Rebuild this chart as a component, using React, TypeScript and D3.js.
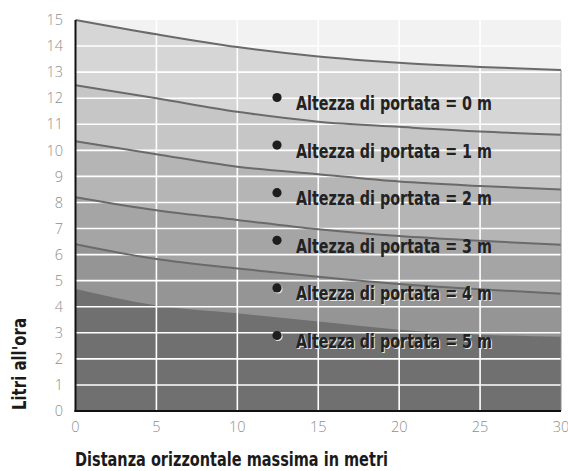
import React from "react";
import * as d3 from "d3";

// distance in metres (x axis)
const distances = [0, 5, 10, 15, 20, 25, 30];

// litres per hour for each delivery height
const height0 = [15, 14.45, 13.96, 13.6, 13.36, 13.2, 13.08];
const height1 = [12.5, 12.0, 11.48, 11.1, 10.9, 10.72, 10.6];
const height2 = [10.35, 9.85, 9.37, 9.08, 8.8, 8.63, 8.5];
const height3 = [8.2, 7.7, 7.33, 6.97, 6.71, 6.53, 6.38];
const height4 = [6.4, 5.83, 5.47, 5.15, 4.87, 4.67, 4.5];
const height5 = [4.68, 4.05, 3.75, 3.43, 3.12, 2.93, 2.85];

const seriesLabels = [
  "Altezza di portata = 0 m",
  "Altezza di portata = 1 m",
  "Altezza di portata = 2 m",
  "Altezza di portata = 3 m",
  "Altezza di portata = 4 m",
  "Altezza di portata = 5 m",
];

const xTicks = [0, 5, 10, 15, 20, 25, 30];
const yTicks = [0, 1, 2, 3, 4, 5, 6, 7, 8, 9, 10, 11, 12, 13, 14, 15];

const series = [height0, height1, height2, height3, height4, height5];
const fills = ["#d6d6d6", "#c6c6c6", "#b5b5b5", "#a5a5a5", "#959595", "#707070"];

const W = 568;
const H = 471;
const left = 75.5;
const right = 561;
const top = 20;
const bottom = 411;

const App: React.FC = () => {
  const x = d3.scaleLinear().domain([0, 30]).range([left, right]);
  const y = d3.scaleLinear().domain([0, 15]).range([bottom, top]);

  const area = d3
    .area<number>()
    .x((_, i) => x(distances[i]))
    .y0(y(0))
    .y1((d) => y(d))
    .curve(d3.curveMonotoneX);

  const line = d3
    .line<number>()
    .x((_, i) => x(distances[i]))
    .y((d) => y(d))
    .curve(d3.curveMonotoneX);

  const tickFont = "'Open Sans', 'DejaVu Sans', sans-serif";
  const boldFont = "'DejaVu Sans Condensed', 'Liberation Sans Narrow', sans-serif";

  return (
    <svg
      width={W}
      height={H}
      style={{ position: "absolute", left: 0, top: 0, background: "#fff" }}
    >
      {/* light background band above the 0 m curve */}
      <rect x={left} y={top} width={right - left} height={bottom - top} fill="#f2f2f2" />

      {series.map((s, i) => (
        <path key={"a" + i} d={area(s)!} fill={fills[i]} />
      ))}

      {/* grid */}
      {yTicks.slice(1, -1).map((t) => (
        <line key={"gy" + t} x1={left} x2={right} y1={y(t)} y2={y(t)} stroke="#fff" strokeWidth={1.6} />
      ))}
      {xTicks.slice(1, -1).map((t) => (
        <line key={"gx" + t} x1={x(t)} x2={x(t)} y1={top} y2={bottom} stroke="#fff" strokeWidth={1.6} />
      ))}

      {/* curve outlines */}
      {series.slice(0, 5).map((s, i) => (
        <path key={"l" + i} d={line(s)!} fill="none" stroke="#6a6a6a" strokeWidth={2} />
      ))}
      <line
        x1={x(30)}
        x2={x(30)}
        y1={y(height0[height0.length - 1])}
        y2={bottom}
        stroke="#8a8a8a"
        strokeWidth={1}
      />

      {/* axes */}
      <line x1={left} x2={left} y1={top} y2={bottom + 1} stroke="#111" strokeWidth={2} />
      <line x1={left - 1} x2={right} y1={bottom} y2={bottom} stroke="#111" strokeWidth={2} />

      {yTicks.map((t) => (
        <text
          key={"ty" + t}
          x={63}
          y={y(t)}
          dy="0.36em"
          textAnchor="end"
          fontFamily={tickFont}
          fontSize={14.5}
          fontWeight={300}
          fill="#8e8e8e"
        >
          {t}
        </text>
      ))}
      {xTicks.map((t) => (
        <text
          key={"tx" + t}
          x={x(t)}
          y={427}
          dy="0.36em"
          textAnchor="middle"
          fontFamily={tickFont}
          fontSize={14.5}
          fontWeight={300}
          fill="#8e8e8e"
        >
          {t}
        </text>
      ))}

      {/* legend */}
      {seriesLabels.map((label, i) => {
        const by = 110 + i * 47.6;
        const shadow = i >= 4;
        return (
          <g key={"lg" + i}>
            {shadow && <circle cx={278} cy={by - 11.5} r={4.6} fill="#e8e8e8" />}
            <circle cx={277} cy={by - 12.5} r={4.6} fill="#1e1e1e" />
            {shadow && (
              <text
                x={297}
                y={by + 1}
                fontFamily={boldFont}
                fontWeight="bold"
                fontSize={20}
                fill="#e6e6e6"
                textLength={196}
                lengthAdjust="spacingAndGlyphs"
              >
                {label}
              </text>
            )}
            <text
              x={296}
              y={by}
              fontFamily={boldFont}
              fontWeight="bold"
              fontSize={20}
              fill="#222"
              textLength={196}
              lengthAdjust="spacingAndGlyphs"
            >
              {label}
            </text>
          </g>
        );
      })}

      {/* axis titles */}
      <text
        x={75}
        y={466}
        fontFamily={boldFont}
        fontWeight="bold"
        fontSize={19}
        fill="#1a1a1a"
        textLength={313}
        lengthAdjust="spacingAndGlyphs"
      >
        Distanza orizzontale massima in metri
      </text>
      <text
        transform="translate(26,364) rotate(-90)"
        textAnchor="middle"
        fontFamily={boldFont}
        fontWeight="bold"
        fontSize={19}
        fill="#1a1a1a"
        textLength={92}
        lengthAdjust="spacingAndGlyphs"
      >
        Litri all'ora
      </text>
    </svg>
  );
};

export default App;
